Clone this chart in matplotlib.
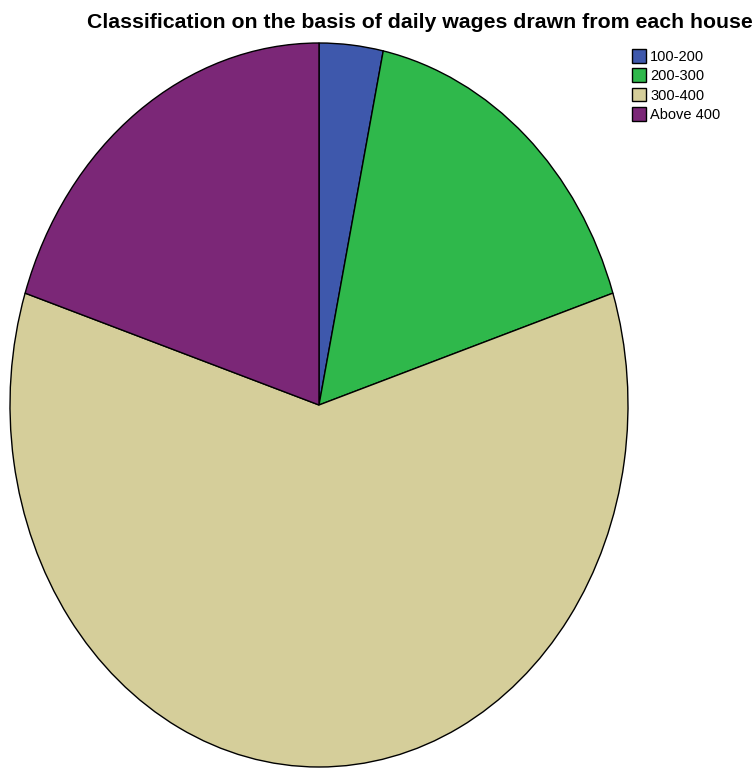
import matplotlib.pyplot as plt

# Households by daily wage band
labels = ["100-200", "200-300", "300-400", "Above 400"]
counts = [1, 5, 18, 6]
colors = ["#3E58AC", "#2FB84B", "#D5CE9A", "#7B2777"]

fig = plt.figure(figsize=(7.53, 7.70), dpi=100)
W, H = 753, 770

# pie stretched into an ellipse: axes box spans the oval
ax = fig.add_axes([10 / W, 3 / H, 618 / W, 724 / H])
wedges, _ = ax.pie(counts, colors=colors, startangle=90, counterclock=False,
                   wedgeprops=dict(edgecolor="black", linewidth=1.0))
ax.set_aspect("auto")
ax.set_xlim(-1, 1)
ax.set_ylim(-1, 1)
ax.axis("off")

fig.text(420 / W, 1 - 22 / H, "Classification on the basis of daily wages drawn from each house",
         ha="center", va="center", fontsize=15.3, fontweight="bold",
         family=["Liberation Sans", "DejaVu Sans"])

leg = fig.legend(wedges, labels, loc="upper left", bbox_to_anchor=(632 / W, 1 - 49 / H),
                 frameon=False, handlelength=0.95, handleheight=1.05,
                 handletextpad=0.3, labelspacing=0.32, borderaxespad=0, borderpad=0,
                 prop=dict(family=["Liberation Sans"], size=10.5))

fig.savefig("out.png", dpi=100)
